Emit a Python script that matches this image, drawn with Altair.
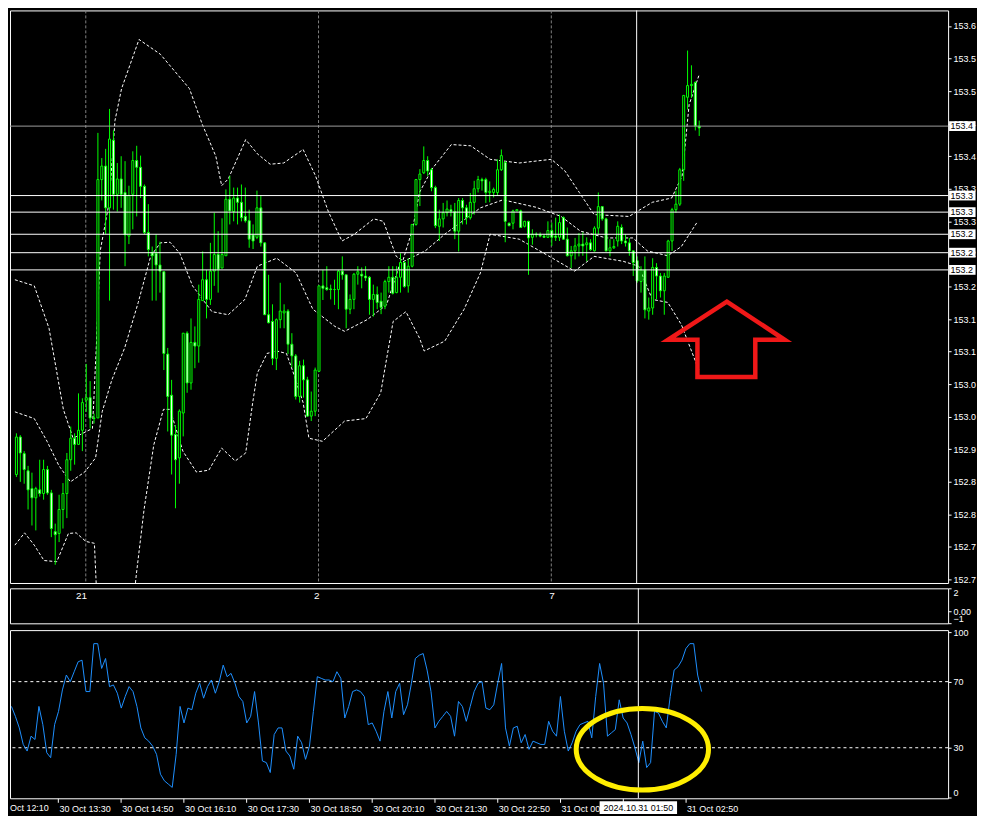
import altair as alt
import pandas as pd

# ---------------- data ----------------
bar_open = [
    152.908, 152.969, 152.942, 152.914, 152.885, 152.870, 152.883, 152.877, 152.916, 152.878,
    152.815, 152.812, 152.851, 152.877, 152.932, 152.967, 152.957, 152.980, 153.029, 153.033,
    153.000, 153.000, 153.388, 153.410, 153.342, 153.452, 153.364, 153.389, 153.367, 153.296,
    153.364, 153.419, 153.408, 153.377, 153.302, 153.269, 153.268, 153.249, 153.238, 153.104,
    153.037, 152.973, 152.935, 153.008, 153.138, 153.057, 153.123, 153.117, 153.191, 153.225,
    153.193, 153.239, 153.266, 153.244, 153.264, 153.356, 153.336, 153.358, 153.351, 153.328,
    153.321, 153.298, 153.294, 153.342, 153.285, 153.168, 153.157, 153.097, 153.160, 153.171,
    153.174, 153.120, 153.101, 153.035, 153.085, 153.062, 153.003, 153.011, 153.076, 153.215,
    153.212, 153.210, 153.209, 153.209, 153.239, 153.233, 153.177, 153.193, 153.234, 153.234,
    153.231, 153.229, 153.193, 153.201, 153.190, 153.182, 153.222, 153.229, 153.204, 153.229,
    153.253, 153.215, 153.247, 153.315, 153.388, 153.399, 153.419, 153.404, 153.375, 153.312,
    153.324, 153.334, 153.339, 153.336, 153.304, 153.354, 153.342, 153.326, 153.351, 153.373,
    153.388, 153.388, 153.367, 153.367, 153.367, 153.404, 153.416, 153.317, 153.317, 153.337,
    153.337, 153.312, 153.320, 153.294, 153.298, 153.298, 153.296, 153.294, 153.305, 153.296,
    153.294, 153.326, 153.291, 153.264, 153.272, 153.280, 153.283, 153.282, 153.285, 153.272,
    153.309, 153.344, 153.324, 153.272, 153.277, 153.288, 153.310, 153.288, 153.285, 153.272,
    153.256, 153.222, 153.241, 153.174, 153.179, 153.245, 153.231, 153.207, 153.229, 153.288,
    153.339, 153.348, 153.404, 153.522, 153.541, 153.546, 153.475,
]
bar_high = [
    152.975, 152.972, 152.946, 152.922, 152.911, 152.888, 152.932, 152.932, 152.922, 152.883,
    152.828, 152.875, 152.894, 152.943, 152.986, 152.975, 153.040, 153.032, 153.088, 153.060,
    153.007, 153.464, 153.423, 153.438, 153.503, 153.468, 153.415, 153.426, 153.418, 153.378,
    153.434, 153.443, 153.427, 153.380, 153.348, 153.279, 153.299, 153.287, 153.238, 153.114,
    153.062, 152.988, 153.014, 153.138, 153.141, 153.162, 153.149, 153.217, 153.271, 153.241,
    153.285, 153.334, 153.304, 153.325, 153.372, 153.394, 153.375, 153.375, 153.380, 153.375,
    153.339, 153.315, 153.370, 153.362, 153.286, 153.233, 153.185, 153.162, 153.220, 153.185,
    153.177, 153.138, 153.104, 153.093, 153.095, 153.067, 153.043, 153.082, 153.215, 153.241,
    153.247, 153.217, 153.225, 153.241, 153.263, 153.233, 153.201, 153.236, 153.247, 153.245,
    153.247, 153.231, 153.217, 153.214, 153.204, 153.225, 153.247, 153.247, 153.247, 153.268,
    153.255, 153.260, 153.315, 153.389, 153.405, 153.442, 153.426, 153.407, 153.378, 153.339,
    153.350, 153.354, 153.347, 153.350, 153.358, 153.358, 153.347, 153.366, 153.386, 153.394,
    153.391, 153.391, 153.385, 153.375, 153.421, 153.437, 153.418, 153.318, 153.339, 153.339,
    153.339, 153.321, 153.321, 153.307, 153.302, 153.302, 153.299, 153.320, 153.318, 153.326,
    153.331, 153.328, 153.310, 153.280, 153.293, 153.301, 153.302, 153.294, 153.291, 153.312,
    153.367, 153.345, 153.326, 153.291, 153.291, 153.320, 153.315, 153.299, 153.293, 153.272,
    153.263, 153.247, 153.263, 153.196, 153.260, 153.252, 153.236, 153.236, 153.290, 153.342,
    153.370, 153.407, 153.525, 153.598, 153.574, 153.548, 153.484,
]
bar_low = [
    152.904, 152.896, 152.893, 152.851, 152.825, 152.817, 152.872, 152.867, 152.875, 152.806,
    152.761, 152.798, 152.820, 152.837, 152.914, 152.924, 152.956, 152.946, 153.010, 152.983,
    152.991, 153.000, 153.354, 153.299, 153.191, 153.339, 153.336, 153.342, 153.247, 153.283,
    153.307, 153.328, 153.358, 153.299, 153.263, 153.191, 153.191, 153.204, 153.078, 152.978,
    152.908, 152.853, 152.893, 152.970, 153.041, 153.046, 153.081, 153.090, 153.191, 153.162,
    153.184, 153.215, 153.204, 153.244, 153.264, 153.315, 153.320, 153.315, 153.320, 153.318,
    153.277, 153.275, 153.291, 153.279, 153.168, 153.154, 153.086, 153.078, 153.146, 153.146,
    153.104, 153.082, 153.030, 153.025, 153.033, 153.002, 152.995, 153.003, 153.075, 153.192,
    153.207, 153.193, 153.184, 153.177, 153.225, 153.146, 153.169, 153.177, 153.217, 153.211,
    153.223, 153.168, 153.165, 153.177, 153.169, 153.177, 153.204, 153.201, 153.203, 153.204,
    153.212, 153.204, 153.245, 153.313, 153.345, 153.397, 153.394, 153.369, 153.309, 153.288,
    153.310, 153.328, 153.328, 153.291, 153.271, 153.315, 153.315, 153.323, 153.331, 153.367,
    153.370, 153.350, 153.351, 153.359, 153.362, 153.402, 153.286, 153.312, 153.307, 153.337,
    153.310, 153.310, 153.233, 153.282, 153.294, 153.294, 153.293, 153.293, 153.280, 153.288,
    153.288, 153.290, 153.263, 153.244, 153.258, 153.263, 153.264, 153.255, 153.272, 153.271,
    153.299, 153.321, 153.271, 153.263, 153.275, 153.279, 153.283, 153.279, 153.264, 153.231,
    153.220, 153.204, 153.162, 153.160, 153.168, 153.193, 153.196, 153.168, 153.228, 153.272,
    153.334, 153.345, 153.386, 153.502, 153.521, 153.468, 153.459,
]
bar_close = [
    152.969, 152.943, 152.916, 152.883, 152.870, 152.885, 152.877, 152.916, 152.878, 152.820,
    152.810, 152.851, 152.877, 152.932, 152.967, 152.957, 152.980, 153.025, 153.033, 153.000,
    152.999, 153.388, 153.410, 153.342, 153.454, 153.364, 153.389, 153.364, 153.298, 153.362,
    153.419, 153.408, 153.377, 153.302, 153.274, 153.264, 153.249, 153.239, 153.105, 153.035,
    152.972, 152.932, 153.011, 153.138, 153.057, 153.123, 153.117, 153.193, 153.225, 153.193,
    153.239, 153.266, 153.242, 153.266, 153.356, 153.337, 153.358, 153.351, 153.326, 153.321,
    153.291, 153.288, 153.342, 153.285, 153.168, 153.155, 153.097, 153.160, 153.174, 153.174,
    153.120, 153.101, 153.035, 153.085, 153.062, 153.003, 153.011, 153.078, 153.215, 153.211,
    153.209, 153.209, 153.209, 153.239, 153.233, 153.177, 153.193, 153.234, 153.238, 153.231,
    153.228, 153.193, 153.201, 153.188, 153.180, 153.222, 153.229, 153.203, 153.229, 153.253,
    153.214, 153.247, 153.315, 153.388, 153.397, 153.419, 153.402, 153.375, 153.313, 153.324,
    153.334, 153.340, 153.336, 153.304, 153.354, 153.342, 153.326, 153.351, 153.373, 153.388,
    153.386, 153.367, 153.369, 153.372, 153.404, 153.427, 153.320, 153.313, 153.337, 153.339,
    153.310, 153.320, 153.293, 153.299, 153.299, 153.296, 153.294, 153.305, 153.294, 153.294,
    153.318, 153.291, 153.264, 153.272, 153.280, 153.283, 153.280, 153.285, 153.274, 153.309,
    153.344, 153.324, 153.272, 153.277, 153.279, 153.312, 153.288, 153.285, 153.272, 153.253,
    153.223, 153.241, 153.176, 153.179, 153.245, 153.231, 153.207, 153.231, 153.288, 153.339,
    153.348, 153.404, 153.525, 153.541, 153.543, 153.475, 153.472,
]
oscillator = [
    55, 49, 42, 32, 28, 37, 35, 55, 44, 27,
    24, 44, 52, 65, 74, 70, 76, 82, 83, 64,
    64, 93, 93, 78, 84, 67, 68, 63, 54, 61,
    67, 64, 55, 42, 36, 34, 31, 26, 14, 10,
    8, 6, 26, 55, 45, 54, 53, 63, 69, 60,
    67, 71, 63, 70, 80, 73, 75, 69, 61, 58,
    45, 49, 64, 45, 22, 21, 15, 38, 42, 42,
    28, 25, 17, 37, 33, 23, 31, 52, 73, 72,
    71, 71, 70, 76, 72, 48, 55, 64, 65, 64,
    61, 44, 45, 40, 34, 52, 64, 48, 64, 69,
    50, 56, 69, 84, 86, 87, 77, 64, 42, 46,
    49, 52, 49, 37, 58, 55, 46, 55, 64, 69,
    70, 54, 53, 56, 69, 81, 42, 31, 42, 43,
    33, 38, 29, 34, 33, 32, 32, 46, 40, 37,
    61, 40, 28, 33, 40, 44, 45, 46, 36, 61,
    81, 69, 37, 39, 41, 59, 48, 45, 38, 30,
    21, 34, 18, 21, 52, 51, 46, 42, 61, 77,
    79, 83, 90, 93, 93, 74, 64,
]

upper_bar = [-0.4, 4.6, 8.4, 12.1, 14.6, 19.6, 20.6, 21.6, 23.9, 25.4, 27.1, 31.6, 37.1, 44.6, 47.9, 51.4,
             52.9, 54.6, 59.1, 62.1, 65.4, 68.9, 73.9, 77.1, 80.4, 83.9, 87.1, 92.1, 94.6, 97.9, 99.6,
             102.1, 103.9, 107.1, 112.1, 117.1, 122.1, 129.6, 137.9, 141.4, 145.1, 148.9, 157.9, 163.9,
             168.9, 171.6, 173.4, 175.9]
upper_val = [153.225, 153.215, 153.146, 153.014, 152.967, 152.983, 153.117, 153.272, 153.351, 153.484,
             153.536, 153.616, 153.592, 153.536, 153.478, 153.426, 153.378, 153.389, 153.453, 153.430,
             153.413, 153.415, 153.437, 153.394, 153.336, 153.288, 153.299, 153.324, 153.320, 153.263,
             153.256, 153.307, 153.367, 153.405, 153.445, 153.443, 153.421, 153.415, 153.421, 153.402,
             153.367, 153.331, 153.328, 153.351, 153.358, 153.394, 153.510, 153.557]
middle_bar = [-0.4, 4.6, 7.9, 10.9, 13.9, 17.6, 20.4, 22.1, 24.6, 27.9, 31.4, 34.6, 37.1, 39.6, 42.1, 45.4,
              50.4, 54.6, 58.9, 62.1, 67.1, 72.1, 76.4, 82.1, 84.6, 90.4, 95.4, 98.9, 105.4, 110.4, 119.6,
              125.4, 133.9, 140.4, 145.4, 152.1, 158.9, 162.6, 167.9, 171.4, 175.4]
middle_val = [153.010, 152.999, 152.962, 152.923, 152.896, 152.912, 152.935, 153.010, 153.062, 153.114,
              153.188, 153.263, 153.285, 153.286, 153.268, 153.215, 153.173, 153.168, 153.193, 153.247,
              153.260, 153.236, 153.177, 153.149, 153.141, 153.160, 153.184, 153.252, 153.272, 153.299,
              153.342, 153.355, 153.343, 153.328, 153.304, 153.293, 153.293, 153.272, 153.264, 153.279,
              153.318]
lower_bar = [-0.4, 2.1, 4.6, 7.1, 10.4, 13.4, 15.4, 17.9, 20.1, 20.9, 22.1, 25.9, 29.1, 30.9, 32.9, 35.4,
             37.9, 39.6, 42.9, 46.4, 49.6, 52.9, 56.4, 59.1, 60.9, 62.1, 64.6, 67.1, 69.6, 71.4, 73.9,
             75.4, 78.9, 84.6, 90.1, 93.9, 97.1, 100.4, 103.9, 105.1, 110.4, 115.4, 119.6, 122.1, 129.6,
             137.1, 143.9, 148.9, 156.4, 160.4, 163.9, 167.9, 171.4, 175.9]
lower_val = [152.793, 152.813, 152.793, 152.768, 152.766, 152.812, 152.813, 152.799, 152.796, 152.682,
             152.556, 152.524, 152.635, 152.745, 152.851, 152.956, 153.014, 153.014, 152.946, 152.912,
             152.915, 152.951, 152.930, 152.943, 153.025, 153.073, 153.105, 153.109, 153.105, 153.073,
             153.025, 152.967, 152.962, 152.995, 152.999, 153.041, 153.157, 153.173, 153.130, 153.109,
             153.125, 153.177, 153.236, 153.299, 153.291, 153.264, 153.239, 153.263, 153.255, 153.247,
             153.193, 153.188, 153.152, 153.078]

level_prices = [153.475, 153.362, 153.335, 153.299, 153.269, 153.241]
level_colors = ["#9c9c9c", "#ffffff", "#ffffff", "#ffffff", "#ffffff", "#ffffff"]
level_labels = ["153.4", "153.3", "153.3", "153.2", "153.2", "153.2"]

price_ticks = [153.638, 153.585, 153.532, 153.479, 153.426, 153.373, 153.320, 153.267, 153.214,
               153.161, 153.108, 153.055, 153.002, 152.949, 152.896, 152.843, 152.790, 152.737]

separator_bars = [17.875, 77.875, 137.875]
separator_labels = ["21", "2", "7"]

time_ticks = [11.875, 27.875, 43.875, 59.875, 75.875, 91.875, 107.875, 123.875, 139.875, 155.875, 171.875]
# the 01:30 label sits wholly under the cursor date box in the picture
time_labels = ["30 Oct 13:30", "30 Oct 14:50", "30 Oct 16:10", "30 Oct 17:30", "30 Oct 18:50",
               "30 Oct 20:10", "30 Oct 21:30", "30 Oct 22:50", "31 Oct 00:10", "",
               "31 Oct 02:50"]
first_time_label = "Oct 12:10"

cursor_bar = 159.875
cursor_label = "2024.10.31 01:50"

osc_levels = [70, 30]
osc_ticks = [0, 30, 70, 100]
mid_ticks = [2, 0, -1]

arrow_bar, arrow_price = 183.0, 153.128
ellipse_bar, ellipse_value = 160.9, 29.1

# ---------------- layout ----------------
SX = 969 / 985
SY = 798 / 818
W = 957 * SX
H_MAIN = 589 * SY
H_MID = 36 * SY
H_BOT = 173 * SY
GAP = 2 * SY

FONT = "Liberation Sans"
LIME = "#00ff00"
FS = 9

X_DOMAIN = [-0.375, 238.875]
P_DOMAIN = [152.7314, 153.6633]
OSC_DOMAIN = [-0.59, 101.18]

xs = alt.Scale(domain=X_DOMAIN, nice=False, zero=False)
ps = alt.Scale(domain=P_DOMAIN, nice=False, zero=False)
os_ = alt.Scale(domain=OSC_DOMAIN, nice=False, zero=False)
ms = alt.Scale(domain=[-1, 2], nice=False, zero=False)

axis_common = dict(title=None, domain=False, grid=False, labelColor="white", tickColor="white",
                   labelFont=FONT, labelFontSize=FS, tickWidth=1, labelOverlap=False)

price_axis = alt.Axis(orient="right", values=price_ticks, tickSize=3, labelPadding=2,
                      labelExpr="format(floor(datum.value*10+0.000001)/10, '.1f')", **axis_common)
mid_axis = alt.Axis(orient="right", values=mid_ticks, tickSize=3, labelPadding=2, labelFlush=True,
                    labelExpr="datum.value == 0 ? '0.00' : format(datum.value, 'd')", **axis_common)
osc_axis = alt.Axis(orient="right", values=osc_ticks, tickSize=3, labelPadding=2, labelFlush=True,
                    format="d", **axis_common)
time_expr = "[" + ",".join("'" + t + "'" for t in time_labels) + "][round((datum.value-11.875)/16)]"
time_axis = alt.Axis(orient="bottom", values=time_ticks, labelExpr=time_expr, tickSize=4,
                     labelPadding=2, labelAlign="left", labelBaseline="top", labelOffset=1,
                     labelFlush=False, **axis_common)


def X(field="k", axis=None):
    return alt.X(f"{field}:Q", scale=xs, axis=axis, title=None)


def P(field="p"):
    return alt.Y(f"{field}:Q", scale=ps, axis=price_axis, title=None)


def V(field="v"):
    return alt.Y(f"{field}:Q", scale=os_, axis=osc_axis, title=None)


# ---------------- tables ----------------
candles = pd.DataFrame({"k": list(range(len(bar_open))), "o": bar_open, "h": bar_high,
                        "l": bar_low, "c": bar_close})
candles["kind"] = ["bull" if c >= o else "bear" for o, c in zip(candles["o"], candles["c"])]

bands = pd.concat([
    pd.DataFrame({"k": upper_bar, "p": upper_val, "band": "upper"}),
    pd.DataFrame({"k": middle_bar, "p": middle_val, "band": "middle"}),
    pd.DataFrame({"k": lower_bar, "p": lower_val, "band": "lower"}),
])
levels = pd.DataFrame({"p": level_prices, "col": level_colors, "lab": level_labels})
seps = pd.DataFrame({"k": separator_bars, "lab": separator_labels, "v": [1.33] * 3})
cursor = pd.DataFrame({"k": [cursor_bar], "lab": [cursor_label]})
osc = pd.DataFrame({"k": list(range(len(oscillator))), "v": oscillator})
osc_lv = pd.DataFrame({"v": osc_levels})
arrow = pd.DataFrame({"k": [arrow_bar], "p": [arrow_price]})
ellipse = pd.DataFrame({"k": [ellipse_bar], "v": [ellipse_value]})
first_lab = pd.DataFrame({"k": [X_DOMAIN[0]], "lab": [first_time_label]})

ARROW_PATH = ("M 0.008 -0.647 L 1 0.008 L 0.496 0.008 L 0.496 0.647 L -0.496 0.647 "
              "L -0.496 0.008 L -1 0.008 Z")
ELLIPSE_PATH = ("M -1 0 C -1 -0.341 -0.552 -0.617 0 -0.617 C 0.552 -0.617 1 -0.341 1 0 "
                "C 1 0.341 0.552 0.617 0 0.617 C -0.552 0.617 -1 0.341 -1 0 Z")
BOX_PATH = "M -1 -0.37 L 1 -0.37 L 1 0.37 L -1 0.37 Z"
CBOX_PATH = "M -1 -0.164 L 1 -0.164 L 1 0.164 L -1 0.164 Z"

# ---------------- main price panel ----------------
grid_l = alt.Chart(pd.DataFrame({"k": separator_bars})).mark_rule(
    color="#808080", strokeDash=[3, 2], strokeWidth=1).encode(x=X())
band_l = alt.Chart(bands).mark_line(color="white", strokeDash=[3, 2], strokeWidth=1, clip=True).encode(
    x=X(), y=P(), detail="band:N")
wick_l = alt.Chart(candles).mark_rule(color=LIME, strokeWidth=1).encode(x=X(), y=P("l"), y2="h:Q")
body_l = alt.Chart(candles).mark_bar(width=2, stroke=LIME, strokeWidth=1).encode(
    x=X(), y=P("o"), y2="c:Q",
    fill=alt.Fill("kind:N", scale=alt.Scale(domain=["bull", "bear"], range=["#000000", "#ffffff"]),
                  legend=None))
level_l = alt.Chart(levels).mark_rule(strokeWidth=1).encode(
    y=P(), color=alt.Color("col:N", scale=None))
cursor_l = alt.Chart(cursor).mark_rule(color="white", strokeWidth=1).encode(x=X())
arrow_l = alt.Chart(arrow).mark_point(shape=ARROW_PATH, size=(2 * 59.5 * SX) ** 2, filled=False,
                                      color="#f01818", strokeWidth=4.5, opacity=1,
                                      strokeJoin="miter").encode(x=X(), y=P())
box_l = alt.Chart(levels).mark_point(shape=BOX_PATH, size=(27 * SX) ** 2, filled=True, color="white",
                                     opacity=1, strokeWidth=0).encode(
    x=alt.value(971.5 * SX), y=P())
boxtxt_l = alt.Chart(levels).mark_text(align="left", baseline="middle", color="black", font=FONT,
                                       fontSize=FS).encode(x=alt.value(959.5 * SX), y=P(), text="lab:N")

main = alt.layer(grid_l, band_l, wick_l, body_l, level_l, cursor_l, arrow_l, box_l, boxtxt_l).properties(
    width=W, height=H_MAIN)

# ---------------- middle (empty indicator) panel ----------------
mid_cursor = alt.Chart(cursor).mark_rule(color="white", strokeWidth=1).encode(x=X())
mid_text = alt.Chart(seps).mark_text(color="white", font=FONT, fontSize=FS + 1, baseline="middle",
                                     align="center").encode(
    x=X(), y=alt.Y("v:Q", scale=ms, axis=mid_axis, title=None), text="lab:N")
mid = alt.layer(mid_cursor, mid_text).properties(width=W, height=H_MID)

# ---------------- oscillator panel ----------------
XB = X(axis=time_axis)
osc_lv_l = alt.Chart(osc_lv).mark_rule(color="white", strokeDash=[3, 3], strokeWidth=1).encode(y=V())
osc_l = alt.Chart(osc).mark_line(color="#1e90ff", strokeWidth=1).encode(x=XB, y=V())
bot_cursor = alt.Chart(cursor).mark_rule(color="white", strokeWidth=1).encode(x=XB)
ell_l = alt.Chart(ellipse).mark_point(shape=ELLIPSE_PATH, size=(2 * 67.5 * SX) ** 2, filled=False,
                                      color="#ffee00", strokeWidth=5, opacity=1).encode(x=XB, y=V())
cbox_l = alt.Chart(cursor).mark_point(shape=CBOX_PATH, size=(79 * SX) ** 2, filled=True, color="white",
                                      opacity=1, strokeWidth=0).encode(
    x=XB, y=alt.value((811.5 - 629) * SY))
ctxt_l = alt.Chart(cursor).mark_text(color="black", font=FONT, fontSize=FS, align="center",
                                     baseline="middle").encode(
    x=XB, y=alt.value((811.5 - 629) * SY), text="lab:N")
first_l = alt.Chart(first_lab).mark_text(color="white", font=FONT, fontSize=FS, align="left",
                                         baseline="top").encode(
    x=XB, y=alt.value(H_BOT + 6), text="lab:N")

bot = alt.layer(osc_lv_l, osc_l, bot_cursor, ell_l, cbox_l, ctxt_l, first_l).properties(
    width=W, height=H_BOT)

chart = alt.vconcat(main, mid, bot, spacing=GAP).configure(
    background="black", padding=0
).configure_view(stroke="white", strokeWidth=1)

chart.save("out.html", embed_options={"renderer": "svg", "actions": False})
